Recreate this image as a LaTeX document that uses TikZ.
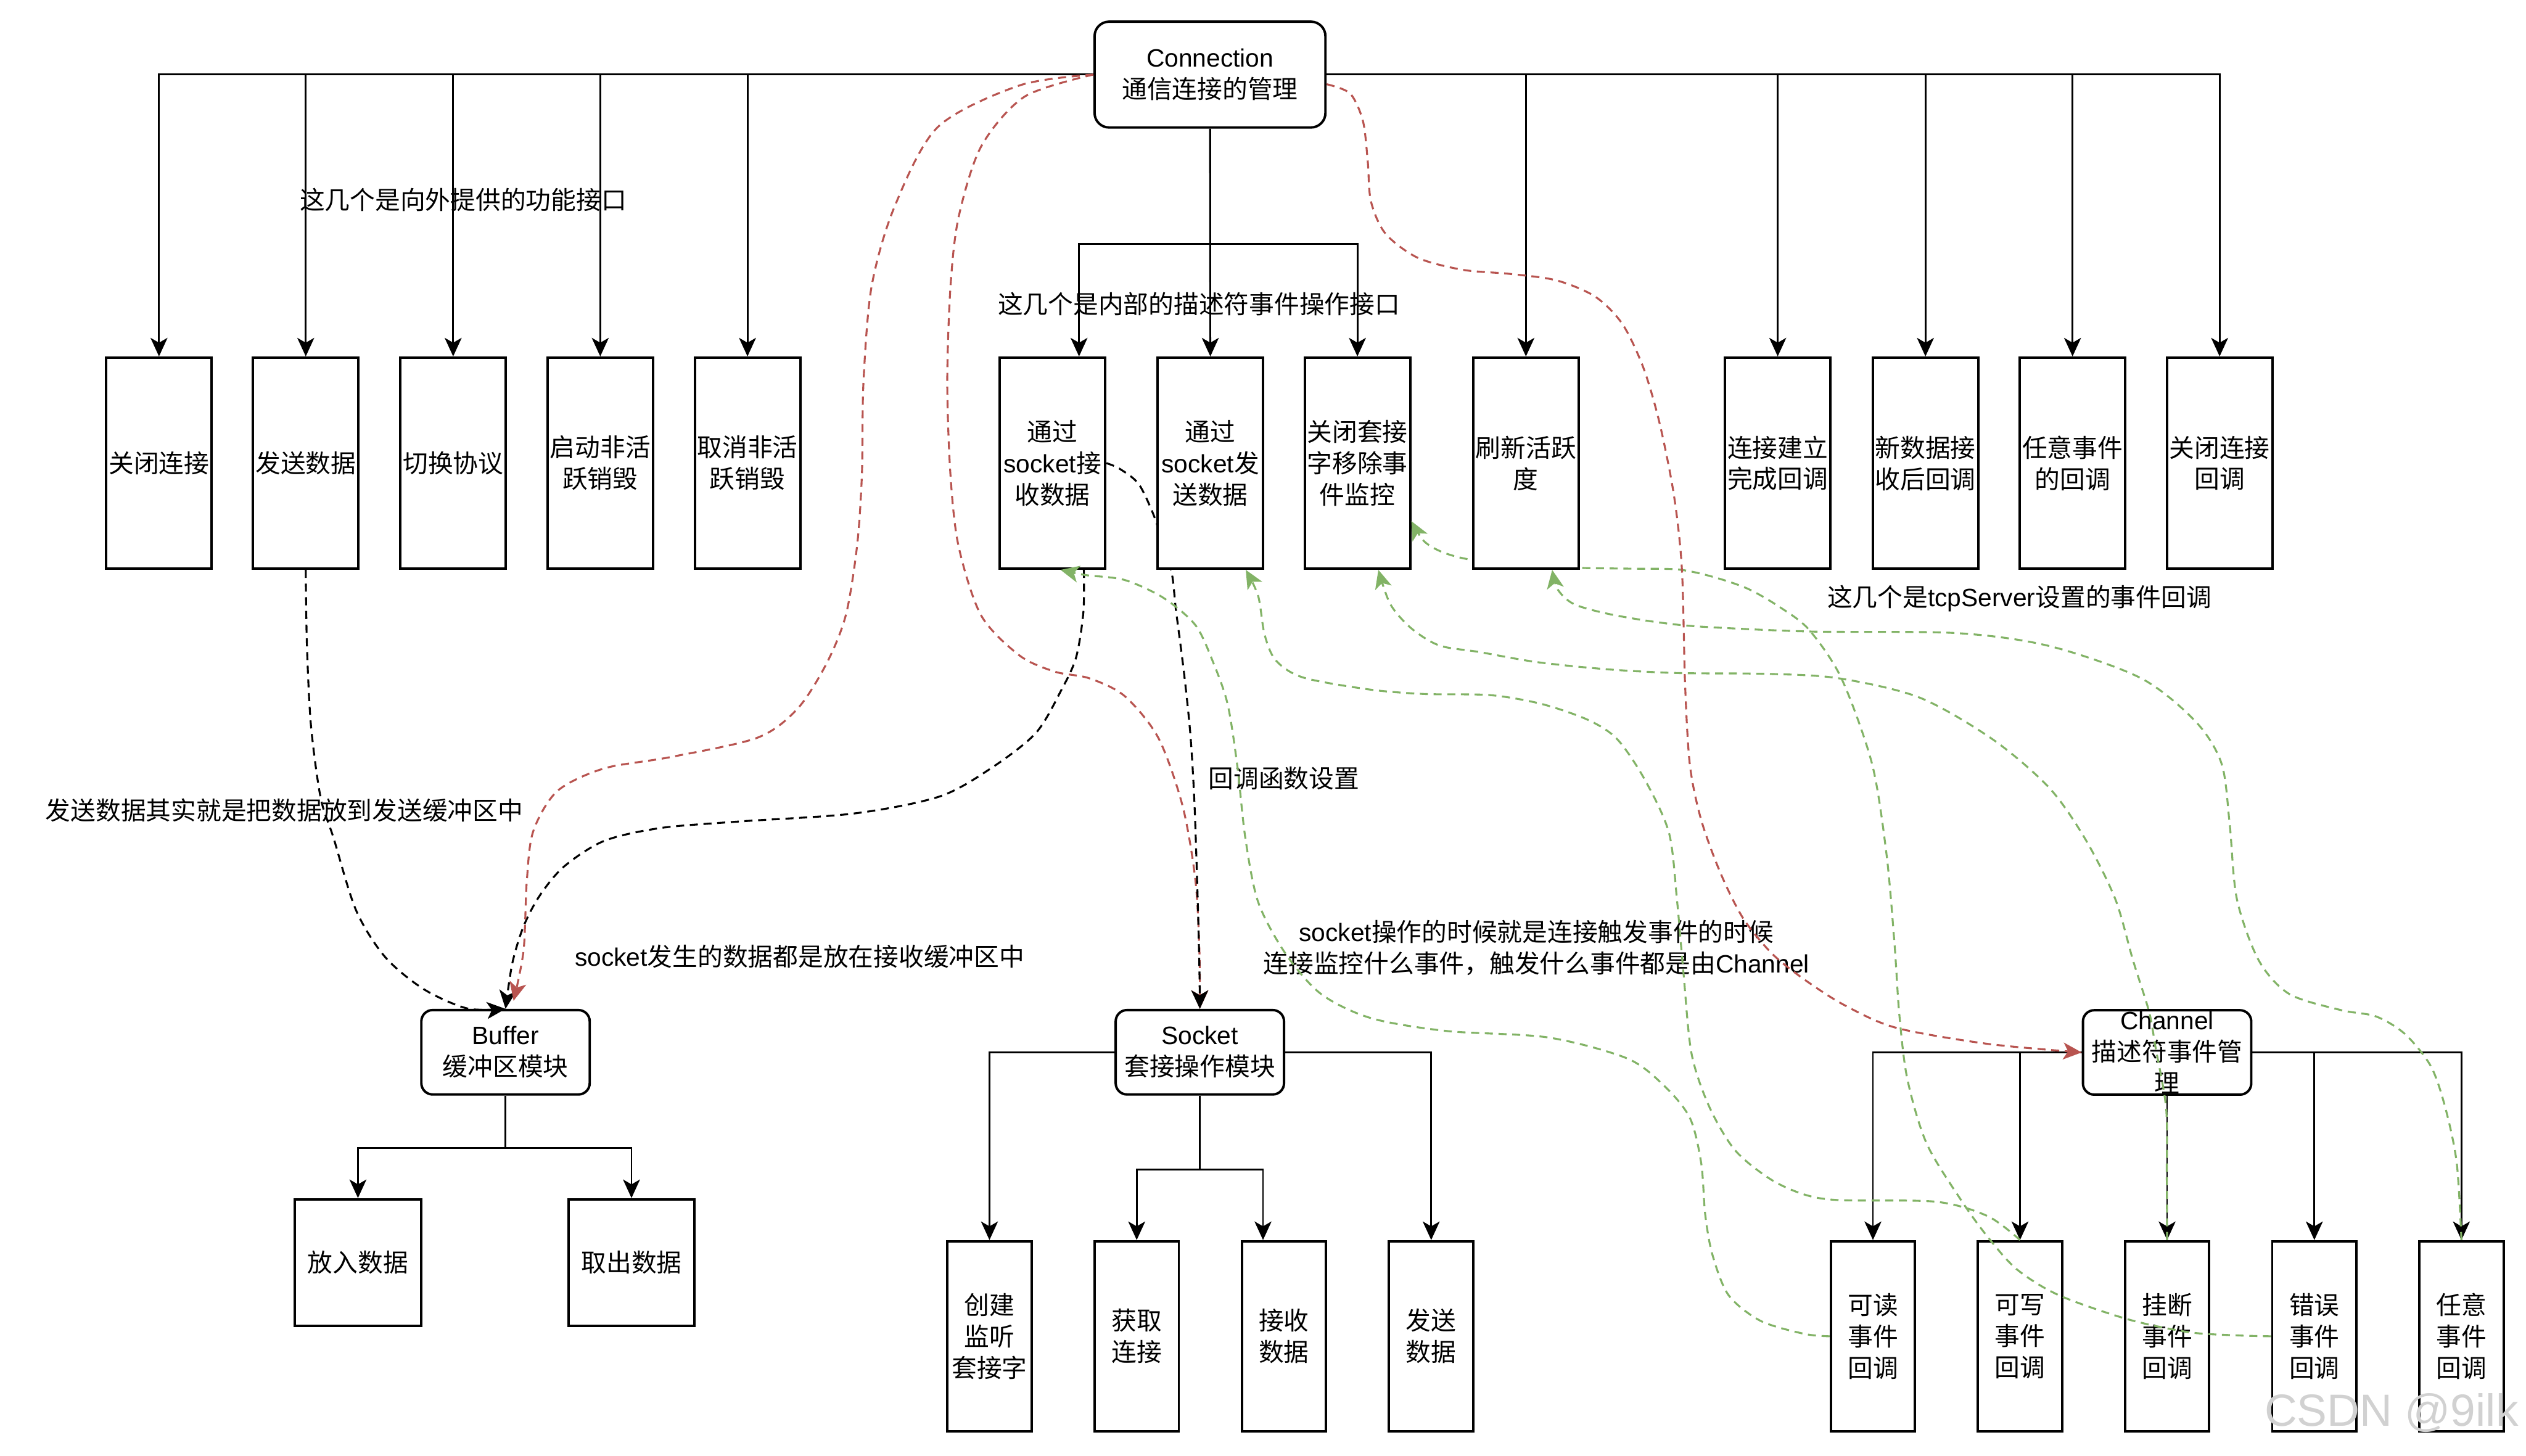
\documentclass[tikz,border=0pt]{standalone}
\usepackage{fontspec}
\setmainfont{Noto Sans CJK SC}
\newfontfamily\latinfont{Liberation Sans}
\usetikzlibrary{arrows.meta}
\newcommand{\LatinTxt}[1]{{\latinfont #1}}
\definecolor{redc}{HTML}{B85450}
\definecolor{greenc}{HTML}{82B366}
\begin{document}
\begin{tikzpicture}[x=1pt, y=-1pt,
  every node/.style={font=\fontsize{15.6pt}{19.5pt}\selectfont},
  box/.style={draw, line width=1.5pt, fill=white, inner sep=0pt, align=center},
  tallbox/.style={box, minimum width=65.5pt, minimum height=131pt},
  subbox/.style={box, minimum width=52.3pt, minimum height=118pt},
  databox/.style={box, minimum width=78.5pt, minimum height=78.5pt},
  module/.style={box, rounded corners=7pt, minimum width=104.5pt, minimum height=52.4pt},
  topmodule/.style={box, rounded corners=9pt, minimum width=143.3pt, minimum height=65.7pt},
  note/.style={inner sep=0pt, align=center},
  link/.style={line width=1.1pt, -{Stealth[length=11.5pt, width=10.5pt, inset=3pt]}},
  dashlink/.style={link, line width=1.2pt, dash pattern=on 5pt off 3.5pt},
  bdash/.style={dashlink, draw=black},
  rdash/.style={dashlink, draw=redc},
  gdash/.style={dashlink, draw=greenc},
  smoothplot/.style={smooth, tension=0.5}
]
\useasboundingbox (0,0) rectangle (1568,903.5);

% ---------------- nodes (b7 and b9 are placed later so that curves pass behind them)
\node[topmodule] (conn) at (751.1,46.3) {\LatinTxt{Connection}\\通信连接的管理};

\node[tallbox] (b1) at (98.7,287.5) {关闭连接};
\node[tallbox] (b2) at (189.8,287.5) {发送数据};
\node[tallbox] (b3) at (281.3,287.5) {切换协议};
\node[tallbox] (b4) at (372.6,287.5) {启动非活\\跃销毁};
\node[tallbox] (b5) at (464,287.5) {取消非活\\跃销毁};
\node[tallbox] (b6) at (653.3,287.5) {通过\\\LatinTxt{socket}接\\收数据};
\node[tallbox] (b8) at (842.6,287.5) {关闭套接\\字移除事\\件监控};
\node[tallbox] (b10) at (1103.5,287.5) {连接建立\\完成回调};
\node[tallbox] (b11) at (1195.2,287.5) {新数据接\\收后回调};
\node[tallbox] (b12) at (1286.5,287.5) {任意事件\\的回调};
\node[tallbox] (b13) at (1377.8,287.5) {关闭连接\\回调};

\node[module] (buf) at (313.8,653.2) {\LatinTxt{Buffer}\\缓冲区模块};
\node[databox] (put) at (222.2,783.7) {放入数据};
\node[databox, minimum width=78pt] (take) at (392,783.7) {取出数据};

\node[module] (sock) at (744.8,653.2) {\LatinTxt{Socket}\\套接操作模块};
\node[subbox] (create) at (614.2,829.5) {创建\\监听\\套接字};
\node[subbox] (accept) at (705.6,829.5) {获取\\连接};
\node[subbox] (recv) at (797,829.5) {接收\\数据};
\node[subbox] (send) at (888.4,829.5) {发送\\数据};

\node[module] (chan) at (1345.2,653.3) {\LatinTxt{Channel}\\描述符事件管\\理};
\node[subbox] (read) at (1162.6,829.5) {可读\\事件\\回调};
\node[subbox] (write) at (1253.9,829.5) {可写\\事件\\回调};
\node[subbox] (hang) at (1345.2,829.5) {挂断\\事件\\回调};
\node[subbox] (err) at (1436.6,829.5) {错误\\事件\\回调};
\node[subbox] (any) at (1527.9,829.5) {任意\\事件\\回调};

% ---------------- labels
\node[note] (l1) at (287.5,124) {这几个是向外提供的功能接口};
\node[note] (l2) at (744.2,188.7) {这几个是内部的描述符事件操作接口};
\node[note] (l3) at (1253.5,371.5) {这几个是\LatinTxt{tcpServer}设置的事件回调};
\node[note] (l4) at (176.5,503) {发送数据其实就是把数据放到发送缓冲区中};
\node[note] (l5) at (496.4,593.9) {\LatinTxt{socket}发生的数据都是放在接收缓冲区中};
\node[note] (l6) at (797,483) {回调函数设置};
\node[note] (l7) at (953.7,588.4) {\LatinTxt{socket}操作的时候就是连接触发事件的时候\\连接监控什么事件，触发什么事件都是由\LatinTxt{Channel}};

% ---------------- curves that pass behind b7 / b9
\draw[rdash] plot[smoothplot] coordinates {(conn.west) (636,60) (609,91) (595,135) (590,178) (588,237) (590,295) (595,339) (609,382) (633,407) (655,417) (676,421) (698,432) (719,458) (734,500) (742,546) (744.5,590) (sock.north)};
\draw[bdash] plot[smoothplot] coordinates {(b6.east) (695,291) (707,300.7) (717,322) (722,340) (727.4,356) (730,379) (735,418) (739,457) (741.5,500) (743.5,560) (744.5,600) (sock.north)};
\draw[gdash] plot[smoothplot] coordinates {(err.west) (1390,829) (1359,827) (1321,819) (1278,804) (1252,788) (1234,768) (1218,746) (1196,710) (1184,670) (1179,630) (1176,586) (1171,530) (1162,474) (1143,421) (1123,391) (1105,377) (1085,365.5) (1063,358) (1041.5,353.5) (1012,353) (980,352.5) (947,350.5) (914,347.6) (896,343) (884,336) ([yshift=-36pt]b8.east)};

\node[tallbox] (b7) at (751.3,287.5) {通过\\\LatinTxt{socket}发\\送数据};
\node[tallbox] (b9) at (947.2,287.5) {刷新活跃\\度};

% ---------------- solid connectors
\foreach \t in {b1,b2,b3,b4,b5} \draw[link] (conn.west) -| (\t.north);
\foreach \t in {b9,b10,b11,b12,b13} \draw[link] (conn.east) -| (\t.north);
\draw[link] (conn.south) -- ++(0,71.5) -| ([xshift=16.5pt]b6.north);
\draw[link] (conn.south) -- (b7.north);
\draw[link] (conn.south) -- ++(0,71.5) -| (b8.north);

\draw[link] (buf.south) -- ++(0,32.4) -| (put.north);
\draw[link] (buf.south) -- ++(0,32.4) -| (take.north);

\draw[link] (sock.west) -| (create.north);
\draw[link] (sock.east) -| (send.north);
\draw[link] (sock.south) -- ++(0,45.8) -| (accept.north);
\draw[link] (sock.south) -- ++(0,45.8) -| ([xshift=-13pt]recv.north);

\draw[link] (chan.west) -| (read.north);
\draw[link] (chan.west) -| (write.north);
\draw[link] (chan.south) -- (hang.north);
\draw[link] (chan.east) -| (err.north);
\draw[link] (chan.east) -| (any.north);

% ---------------- dashed connectors
\draw[bdash] plot[smoothplot] coordinates {(b2.south) (190.5,400) (193,450) (199,495) (207,520) (221,565) (239,594) (263,614) (290,626) (buf.north)};
\draw[bdash] plot[smoothplot] coordinates {([xshift=19.5pt]b6.south) (672.5,380) (668,408) (659,428) (643,455) (615,477) (583,494.5) (530,505) (458,510) (410,514) (375,522) (350,538) (335,556) (325,575) (318,598) (buf.north)};
\draw[rdash] plot[smoothplot] coordinates {(conn.west) (633,53) (582,79) (555,129) (541,178) (536,237) (535,295) (532,339) (525,382) (513,412) (495,440) (470,458) (416,470) (375,477) (346,491) (331,516) (327,547) (325,590) ([xshift=5pt,yshift=5pt]buf.north)};
\draw[rdash] plot[smoothplot] coordinates {([yshift=-6pt]conn.east) (838,58) (846,75) (849,100) (851,125) (860,145) (880,160) (908,167.5) (937,170) (966,174) (990,184) (1007,201) (1020,228) (1030,262) (1039,307) (1044,353) (1046,425) (1049,475) (1056,509) (1068,542) (1082,570) (1100,592) (1120,608) (1145,624) (1177,638) (1234,648) (chan.west)};

\draw[gdash] plot[smoothplot] coordinates {(read.west) (1120,828) (1093,820) (1073,804) (1063,779) (1058.5,754) (1056,722) (1049,694) (1033,674) (1010,657) (961,644) (898,640) (851,632) (820,617) (798,592) (781,560) (773,520) (768,475) (762,437) (753,411) (742,388) (722,371) (698,360) (674,357) ([xshift=5pt]b6.south)};
\draw[gdash] plot[smoothplot] coordinates {(write.north) (1234,755) (1202,746) (1142,745) (1120,741.5) (1099,732) (1077,714) (1061,687) (1050,654) (1045,604) (1041,559) (1036,517) (1021,484) (1004,459) (986,447) (957,437) (925,431.5) (884,430.8) (850,428) (809,420.6) (792,410) (785,394) (781,370) ([xshift=22pt]b7.south)};
\draw[gdash] plot[smoothplot] coordinates {(hang.north) (1345,730) (1344.6,688) (1338,650) (1334,628) (1324,596) (1313,558) (1294.5,521) (1272,489) (1237,459) (1191.5,433) (1141,421) (1097,418.3) (1041.5,417.8) (998,415.5) (954,411) (918,404.7) (893.5,400.7) (876,390) (863,375) ([xshift=13pt]b8.south)};
\draw[gdash] plot[smoothplot] coordinates {(any.north) (1525,722) (1518,688) (1509,662) (1493,642) (1475,631) (1453,627) (1421,617) (1402,596) (1388.5,558) (1384,511) (1379,474) (1363,448) (1329,421) (1272,401) (1214.5,393) (1123,392) (1056,389) (1027,386) (998,381) (977,375) (967,366) ([xshift=16.3pt]b9.south)};

% ---------------- watermark
\node[text=black!18, font=\latinfont\fontsize{28pt}{28pt}\selectfont, inner sep=0pt] (wm) at (1484.5,877) {CSDN @9ilk};
\end{tikzpicture}
\end{document}
